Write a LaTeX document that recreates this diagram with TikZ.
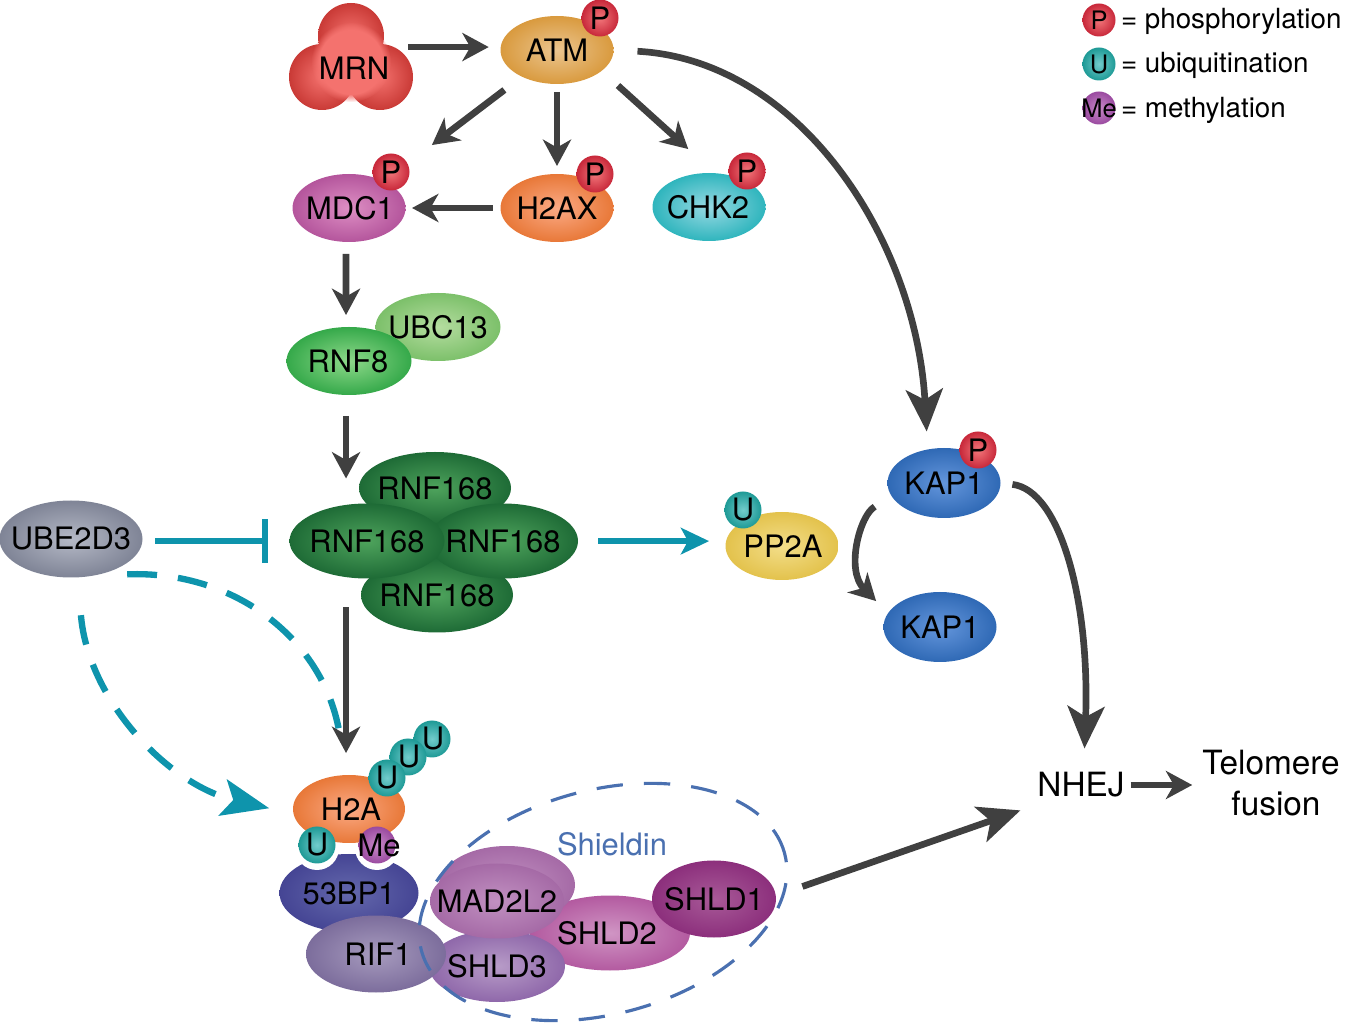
\documentclass[tikz,border=0pt]{standalone}
\usepackage{fontspec}
\setmainfont{TeX Gyre Heros}
\usepackage{xcolor}
\usepackage{tikz}
\usetikzlibrary{shapes.geometric,arrows.meta,positioning,calc,fadings}

\definecolor{arrgray}{HTML}{404040}
\definecolor{arrteal}{HTML}{0E94AC}
\definecolor{shieldblue}{HTML}{4A70B0}
\newcommand{\lbl}[2][0]{\makebox[0pt]{\hspace*{\dimexpr 0.04cm*#1\relax}#2}}

\begin{document}
\begin{tikzpicture}[
        x=0.02cm, y=-0.02cm,
        prot/.style n args={4}{ellipse, inner sep=0pt, outer sep=0pt, inner color=#2, outer color=#1,
            minimum width=#3*0.02cm, minimum height=#4*0.02cm, font=\fontsize{17.6}{20}\selectfont},
        atmp/.style={prot={atmo}{atmi}{113}{68}},
        pmark/.style={prot={pmo}{pmi}{37}{37}},
        umark/.style={prot={umo}{umi}{37}{37}},
        memark/.style={prot={meo}{mei}{37}{37}},
        rnfp/.style 2 args={prot={rnfo}{rnfi}{#1}{#2}},
        kapp/.style={prot={kapo}{kapi}{113}{70}},
        plain/.style={inner sep=0pt, outer sep=0pt, font=\fontsize{19}{24}\selectfont},
        legend/.style={inner sep=0pt, outer sep=0pt, anchor=west, font=\fontsize{15.8}{18}\selectfont},
        legmark/.style={minimum size=33*0.02cm, font=\fontsize{14.5}{16}\selectfont},
        gapa/.style={shorten <=#1*0.02cm},
        gapb/.style={shorten >=#1*0.02cm},
        arr/.style={arrgray, line width=3.8pt, -{Stealth[length=15pt,width=16pt,inset=4.5pt]}},
        bigarr/.style={arrgray, line width=3.8pt, -{Stealth[length=24pt,width=21pt,inset=6pt]}},
        tealarr/.style={arrteal, line width=3.3pt, -{Stealth[length=16pt,width=15pt,inset=4pt]}},
        tealbar/.style={arrteal, line width=3.3pt, -{Bar[width=25pt]}},
        tealdash/.style={arrteal, line width=3.6pt, dash pattern=on 17pt off 12pt}
    ]
        \definecolor{mrno}{HTML}{C93A36}\definecolor{mrni}{HTML}{F4726E}
        \definecolor{atmo}{HTML}{D99A3E}\definecolor{atmi}{HTML}{EBC58F}
        \definecolor{mdco}{HTML}{B4559C}\definecolor{mdci}{HTML}{DE8FC4}
        \definecolor{h2o}{HTML}{E87838}\definecolor{h2i}{HTML}{FBAA85}
        \definecolor{chko}{HTML}{2FB5BD}\definecolor{chki}{HTML}{98D9E3}
        \definecolor{ubco}{HTML}{7CC06A}\definecolor{ubci}{HTML}{B5DDA0}
        \definecolor{rn8o}{HTML}{35A94A}\definecolor{rn8i}{HTML}{8ED98A}
        \definecolor{rnfo}{HTML}{1E6B36}\definecolor{rnfi}{HTML}{4EA35C}
        \definecolor{ubeo}{HTML}{7F8496}\definecolor{ubei}{HTML}{B5B9C6}
        \definecolor{ppo}{HTML}{E3C24C}\definecolor{ppi}{HTML}{F3DE8A}
        \definecolor{kapo}{HTML}{2F69B5}\definecolor{kapi}{HTML}{6496DC}
        \definecolor{bpo}{HTML}{454594}\definecolor{bpi}{HTML}{6468AC}
        \definecolor{rifo}{HTML}{7C6D9C}\definecolor{rifi}{HTML}{A79BBE}
        \definecolor{sh3o}{HTML}{8F68AA}\definecolor{sh3i}{HTML}{B89CC8}
        \definecolor{mado}{HTML}{A56AA6}\definecolor{madi}{HTML}{C190C1}
        \definecolor{sh2o}{HTML}{B35AA0}\definecolor{sh2i}{HTML}{D095C4}
        \definecolor{sh1o}{HTML}{8C2F7C}\definecolor{sh1i}{HTML}{A85A98}
        \definecolor{pmo}{HTML}{C8283A}\definecolor{pmi}{HTML}{F2767A}
        \definecolor{umo}{HTML}{1E9A96}\definecolor{umi}{HTML}{72CCCC}
        \definecolor{meo}{HTML}{9A4AA0}\definecolor{mei}{HTML}{C88AC8}

        \useasboundingbox (0,0) rectangle (1350,1023);

        % MRN and ATM
        \node[prot={mrno}{mrni}{66}{66}] (mrnt) at (351,36) {};
        \node[prot={mrno}{mrni}{66}{66}] (mrnl) at (322,77) {};
        \node[prot={mrno}{mrni}{66}{66}] (mrnr) at (380,77) {};
        \node[circle, fill=mrni, inner sep=0pt, minimum size=80*0.02cm,
            path fading=circle with fuzzy edge 20 percent] (mrnc) at (351,62) {};
        \node[plain, font=\fontsize{17.6}{20}\selectfont] (mrn) at (354,68) {MRN};
        \node[atmp] (atm) at (557,50) {\lbl{ATM}};
        \node[pmark] (atmP) at (600,18) {\lbl{P}};

        % first targets
        \node[prot={mdco}{mdci}{113}{68}] (mdc1) at (349,208) {\lbl[1]{MDC1}};
        \node[pmark] (mdc1P) at (391,172) {\lbl{P}};
        \node[prot={h2o}{h2i}{113}{68}] (h2ax) at (557,208) {\lbl{H2AX}};
        \node[pmark] (h2axP) at (595,174) {\lbl{P}};
        \node[prot={chko}{chki}{113}{68}] (chk2) at (709,207) {\lbl[-1]{CHK2}};
        \node[pmark] (chk2P) at (747,171) {\lbl{P}};

        \node[prot={ubco}{ubci}{125}{68}] (ubc13) at (438,327) {\lbl{UBC13}};
        \node[prot={rn8o}{rn8i}{125}{68}] (rnf8) at (349,361) {\lbl[-1]{RNF8}};

        % RNF168 cluster
        \node[rnfp={152}{72}] (rnft) at (435,488) {\lbl{RNF168}};
        \node[rnfp={152}{75}] (rnfb) at (437,595) {\lbl{RNF168}};
        \node[rnfp={150}{75}] (rnfr) at (503,541) {\lbl{RNF168}};
        \node[rnfp={155}{75}] (rnfl) at (367,541) {\lbl{RNF168}};
        \node[prot={ubeo}{ubei}{143}{77}] (ube) at (71,539) {\lbl{UBE2D3}};

        \node[prot={ppo}{ppi}{113}{68}] (pp2a) at (782,546) {\lbl[1]{PP2A}};
        \node[umark] (pp2aU) at (743,510) {\lbl{U}};
        \node[kapp] (kap1a) at (944,483) {\lbl{KAP1}};
        \node[pmark] (kap1P) at (978,450) {\lbl{P}};
        \node[kapp] (kap1b) at (940,627) {\lbl{KAP1}};

        % H2A and its readers
        \node[prot={bpo}{bpi}{139}{78}] (bp53) at (349,893) {\lbl{53BP1}};
        \node[circle, fill=white, inner sep=0pt, minimum size=44*0.02cm] (notchu) at (317,848) {};
        \node[circle, fill=white, inner sep=0pt, minimum size=44*0.02cm] (notchm) at (377,848) {};
        \node[prot={h2o}{h2i}{112}{68}] (h2a) at (349,809) {\lbl[2]{H2A}};
        \node[umark] (h2aU1) at (432,739) {\lbl[1]{U}};
        \node[umark] (h2aU2) at (408,757) {\lbl[1]{U}};
        \node[umark] (h2aU3) at (387,778) {\lbl{U}};
        \node[umark] (h2aU) at (317,845) {\lbl{U}};
        \node[memark] (h2aMe) at (377,845) {\lbl[2]{Me}};

        % Shieldin
        \node[prot={sh2o}{sh2i}{160}{75}] (shld2) at (610,933) {\lbl[-3]{SHLD2}};
        \node[prot={mado}{madi}{136}{78}] (madb) at (507,885) {};
        \node[prot={sh3o}{sh3i}{136}{72}] (shld3) at (497,966) {\lbl{SHLD3}};
        \node[prot={mado}{madi}{134}{75}] (mad2) at (497,901) {\lbl{MAD2L2}};
        \node[prot={sh1o}{sh1i}{124}{77}] (shld1) at (714,899) {\lbl{SHLD1}};
        \node[prot={rifo}{rifi}{140}{77}] (rif1) at (376,954) {\lbl[2]{RIF1}};
        \node[ellipse, draw=shieldblue, line width=1.8pt, dash pattern=on 15pt off 12pt, inner sep=0pt,
            minimum width=376*0.02cm, minimum height=224*0.02cm, rotate=15] (shield) at (603,902) {};
        \node[plain, shieldblue, font=\fontsize{17.6}{20}\selectfont] (shieldt) at (612,844) {Shieldin};

        % Outcome
        \node[plain] (nhej) at (1081,785) {NHEJ};
        \node[plain, align=center, font=\fontsize{19}{23.2}\selectfont] (tel) at (1271,783) {Telomere\\\hspace*{0.2cm}fusion};

        % Legend
        \node[pmark, legmark] (legP) at (1099,20) {\lbl{P}};
        \node[legend] (legPt) at (1121,21) {= phosphorylation};
        \node[umark, legmark] (legU) at (1099,64) {\lbl{U}};
        \node[legend] (legUt) at (1121,65) {= ubiquitination};
        \node[memark, legmark] (legMe) at (1099,108) {\lbl{Me}};
        \node[legend] (legMet) at (1121,110) {= methylation};

        % Arrows
        \draw[tealdash, gapa=38, -{Stealth[length=27pt,width=21pt,inset=6pt]}, gapb=25]
            (ube.-80) .. controls (88,700) and (168,785) .. (h2a.185);
        \draw[tealdash, gapa=35, gapb=40] (ube.-60) .. controls (235,570) and (325,640) .. (h2a.95);
        \draw[tealbar, gapa=12.5, gapb=22] (rnfl.west -| ube.east) -- (rnfl.west);
        \draw[tealarr, gapa=20, gapb=17] (pp2a.175 -| rnfr.east) -- (pp2a.175);

        \draw[arr, gapa=19, gapb=12] (atm.177 -| mrn.east) -- (atm.177);
        \draw[arr, gapa=22, gapb=60] (atm) -- (mdc1);
        \draw[arr, gapa=8, gapb=8] (atm) -- (h2ax);
        \draw[arr, gapa=22, gapb=36] (atm.-25) -- (chk2.80);
        \draw[arr, gapa=8, gapb=6.5] (h2ax.west) -- (mdc1.east);
        \draw[arr, gapa=12, gapb=12] (mdc1.-95) -- (rnf8.95);
        \draw[arr, gapa=21, gapb=25] (rnf8.-95) -- (rnf8.-95 |- rnfl.north);
        \draw[arr, gapa=29, gapb=22] (rnfl.south -| h2a.95) -- (h2a.95);
        \draw[bigarr, gapa=24, gapb=18] (atm.east) .. controls (800,60) and (916,240) .. (kap1a.116);
        \draw[bigarr, gapa=12, gapb=24] (kap1a.east) .. controls (1060,490) and (1090,600) .. (nhej.78);
        \draw[arr, gapa=20, gapb=17] (kap1a.-165) .. controls (860,515) and (845,570) .. (kap1b.165);
        \draw[bigarr, gapa=18, gapb=18] (shield.-12) -- ([yshift=-7*0.02cm]nhej.south west);
        \draw[arr, gapa=6, gapb=10] (nhej.east) -- (nhej.east -| tel.west);
    \end{tikzpicture}
\end{document}
